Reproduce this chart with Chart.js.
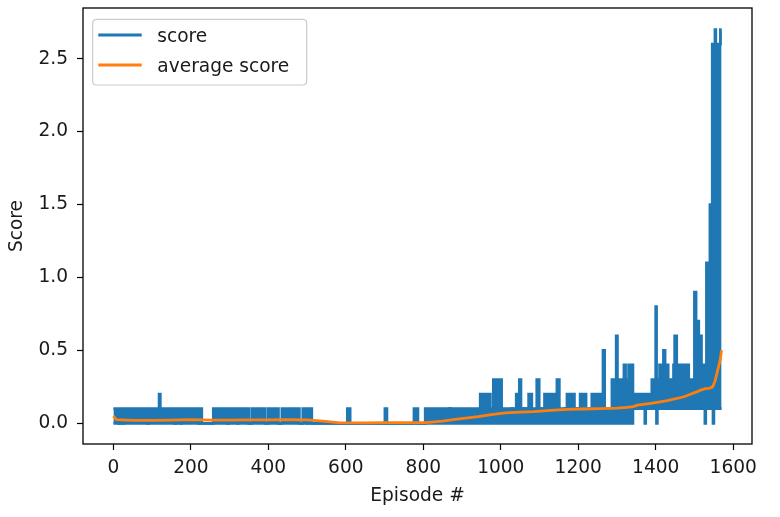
<!DOCTYPE html>
<html>
<head>
<meta charset="utf-8">
<script src="https://cdn.jsdelivr.net/npm/chart.js@4/dist/chart.umd.min.js"></script>
<style>
html,body{margin:0;padding:0;background:#fff;}
#wrap{width:780px;height:517px;position:relative;}
</style>
</head>
<body>
<div id="wrap"><canvas id="c" width="780" height="517"></canvas></div>
<script>
// ---- data ----
const xTicks = [0, 200, 400, 600, 800, 1000, 1200, 1400, 1600];
const yTicks = [0, 0.5, 1.0, 1.5, 2.0, 2.5];
const lastEpisode = 1570;

// score series, described as runs of episodes: the blue trace in each run
// swings between segLow and segHigh (start episode of each run in segStart)
const segStart = [
  0,13,16,24,26,88,91,118,121,158,161,174,176,220,226,228,258,295,298,320,322,349,357,392,400,426,435,480,489,500,503,512,
  604,611,701,706,776,786,
  805,868,871,947,960,962,973,981,989,991,1002,1028,1031,1040,1048,1052,1058,1061,1067,1070,1072,1080,1093,1099,1104,1107,
  1113,1141,1145,1151,1165,1168,1171,1190,1196,1199,1205,1220,1224,1227,1235,1257,1264,1268,
  1287,1292,1295,1298,1301,1306,1309,1314,1318,1322,1326,1330,1333,1336,1341,
  1372,1374,1390,1400,1402,1404,1410,1420,1424,1432,1446,1449,1454,1470,1473,1485,1493,1500,1504,1507,1511,1518,1527,1529,1531,1534,
  1540,1546,1548,1550,1553,1555,1567
];
const segHigh = [
  0.1,0,0.1,0,0.1,0,0.1,0.2,0.1,0,0.1,0,0.1,0,0.1,0,0.1,0,0.1,0,0.1,0,0.1,0,0.1,0,0.1,0,0.1,0,0.1,0,
  0.1,0,0.1,0,0.1,0,
  0.1,0.1,0.1,0.2,0.1,0.2,0.1,0.3,0.2,0.3,0.1,0.1,0.1,0.2,0.3,0.1,0.1,0.1,0.1,0.1,0.2,0.1,0.3,0.1,0.1,0.1,
  0.2,0.1,0.3,0.1,0.1,0.1,0.2,0.1,0.1,0.1,0.2,0.1,0.1,0.1,0.2,0.1,0.5,0.1,
  0.3,0.1,0.3,0.6,0.3,0.1,0.3,0.1,0.4,0.1,0.3,0.4,0.1,0.4,0.2,
  0.2,0.2,0.3,0.8,0.3,0.3,0.4,0.5,0.4,0.3,0.4,0.6,0.4,0.2,0.4,0.3,0.2,0.9,0.3,0.7,0.6,0.4,0.4,0.4,1.1,0.6,
  1.5,2.6,2.6,2.6,2.7,2.6,2.7
];
const segLow = [
  0,0,0,0,0,0,0,0,0,0,0,0,0,0,0,0,0,0,0,0,0,0,0,0,0,0,0,0,0,0,0,0,
  0,0,0,0,0,0,
  0,0.1,0,0,0,0,0,0,0,0,0,0.1,0,0,0,0,0.1,0,0.1,0,0,0,0,0,0.1,0,
  0,0,0,0,0.1,0,0,0,0.1,0,0,0,0.1,0,0,0,0,0,
  0,0,0,0,0,0,0,0,0,0,0,0,0,0,0.1,
  0,0.1,0.1,0.1,0,0.1,0.1,0.1,0.1,0.1,0.1,0.1,0.1,0.1,0.1,0.1,0.1,0.1,0.1,0.1,0.1,0.1,0,0.1,0.1,0.1,
  0.1,0.1,0,0.1,0.1,0.1,0.1
];

// average score (orange), sampled along the curve
const avgEpisode = [0,8,50,100,150,200,250,300,350,400,450,500,540,580,650,700,750,805,850,882,942,975,1012,1050,1085,1130,1171,1210,1257,1300,1326,1342,1353,1387,1430,1473,1507,1516,1528,1538,1547,1553,1560,1566,1570];
const avgScore   = [0.05,0.025,0.02,0.02,0.022,0.025,0.022,0.022,0.024,0.024,0.025,0.023,0.015,0.005,0.003,0.004,0.004,0.004,0.015,0.027,0.045,0.06,0.072,0.076,0.08,0.088,0.095,0.098,0.1,0.104,0.109,0.114,0.125,0.137,0.155,0.182,0.217,0.228,0.238,0.24,0.25,0.29,0.365,0.43,0.5];

const seriesLabels = ['score', 'average score'];
const BLUE = '#1f77b4', ORANGE = '#ff7f0e';

// ---- build datasets ----
function runPoints(values) {
  const pts = segStart.map((e, i) => ({x: e, y: values[i]}));
  pts.push({x: lastEpisode, y: values[values.length - 1]});
  return pts;
}
const avgPoints = avgEpisode.map((e, i) => ({x: e, y: avgScore[i]}));

const FONT = {family: 'DejaVu Sans', size: 18.6};
const TXT = '#1a1a1a';

const framePlugin = {
  id: 'frame',
  afterDatasetsDraw(chart) {
    const {ctx, chartArea: a} = chart;
    ctx.save();
    ctx.strokeStyle = '#000';
    ctx.lineWidth = 1.3;
    ctx.strokeRect(a.left, a.top, a.right - a.left, a.bottom - a.top);
    ctx.restore();
  }
};

const legendPlugin = {
  id: 'boxLegend',
  afterDatasetsDraw(chart) {
    const {ctx, chartArea: a} = chart;
    const items = chart.data.datasets.filter(d => !d.legendHide);
    const bx = a.left + 9.7, by = a.top + 11.3, bw = 214, bh = 65.7, r = 4;
    ctx.save();
    ctx.beginPath();
    ctx.moveTo(bx + r, by);
    ctx.lineTo(bx + bw - r, by); ctx.quadraticCurveTo(bx + bw, by, bx + bw, by + r);
    ctx.lineTo(bx + bw, by + bh - r); ctx.quadraticCurveTo(bx + bw, by + bh, bx + bw - r, by + bh);
    ctx.lineTo(bx + r, by + bh); ctx.quadraticCurveTo(bx, by + bh, bx, by + bh - r);
    ctx.lineTo(bx, by + r); ctx.quadraticCurveTo(bx, by, bx + r, by);
    ctx.closePath();
    ctx.fillStyle = 'rgba(255,255,255,0.8)';
    ctx.fill();
    ctx.strokeStyle = '#cccccc';
    ctx.lineWidth = 1.2;
    ctx.stroke();
    items.forEach((d, i) => {
      const y = by + 15.7 + i * 30;
      ctx.beginPath();
      ctx.strokeStyle = d.borderColor;
      ctx.lineWidth = 2.8;
      ctx.lineCap = 'butt';
      ctx.moveTo(bx + 5.6, y);
      ctx.lineTo(bx + 49, y);
      ctx.stroke();
      ctx.fillStyle = TXT;
      ctx.font = `${FONT.size}px "${FONT.family}"`;
      ctx.textBaseline = 'middle';
      ctx.textAlign = 'left';
      ctx.fillText(d.label, bx + 64.6, y + 1.8);
    });
    ctx.restore();
  }
};

new Chart(document.getElementById('c'), {
  type: 'line',
  data: {
    datasets: [
      {
        label: seriesLabels[0], data: runPoints(segHigh), stepped: 'before',
        borderColor: BLUE, backgroundColor: BLUE, borderWidth: 2.8, fill: false, order: 1
      },
      {
        label: seriesLabels[0] + ' (lower)', legendHide: true, data: runPoints(segLow), stepped: 'before',
        borderColor: BLUE, backgroundColor: BLUE, borderWidth: 2.8, fill: '-1', order: 1
      },
      {
        label: seriesLabels[1], data: avgPoints,
        borderColor: ORANGE, backgroundColor: ORANGE, borderWidth: 2.8, fill: false, order: 0
      }
    ]
  },
  options: {
    responsive: false,
    animation: false,
    events: [],
    layout: {padding: {top: 8, right: 28, left: 0, bottom: 0}},
    elements: {point: {radius: 0}, line: {tension: 0, borderJoinStyle: 'miter'}},
    plugins: {legend: {display: false}, tooltip: {enabled: false}},
    scales: {
      x: {
        type: 'linear', min: -78.5, max: 1648.5,
        afterBuildTicks: s => { s.ticks = xTicks.map(v => ({value: v})); },
        afterFit: s => { s.height = 73; s.paddingLeft = 0; s.paddingRight = 0; },
        grid: {display: true, drawOnChartArea: false, drawTicks: true, tickLength: 6, tickColor: '#000', tickWidth: 1.2},
        border: {display: false},
        ticks: {font: FONT, color: TXT, padding: 7, maxRotation: 0, autoSkip: false, callback: v => String(v)},
        title: {display: true, text: 'Episode #', font: FONT, color: TXT, padding: {top: 0, bottom: 10}}
      },
      y: {
        type: 'linear', min: -0.142, max: 2.848,
        afterBuildTicks: s => { s.ticks = yTicks.map(v => ({value: v})); },
        afterFit: s => { s.width = 83; s.paddingTop = 0; s.paddingBottom = 0; },
        grid: {display: true, drawOnChartArea: false, drawTicks: true, tickLength: 6, tickColor: '#000', tickWidth: 1.2},
        border: {display: false},
        ticks: {font: FONT, color: TXT, padding: 9, autoSkip: false, callback: v => Number(v).toFixed(1)},
        title: {display: true, text: 'Score', font: FONT, color: TXT, padding: {top: 6.3, bottom: 0}}
      }
    }
  },
  plugins: [framePlugin, legendPlugin]
});
</script>
</body>
</html>
